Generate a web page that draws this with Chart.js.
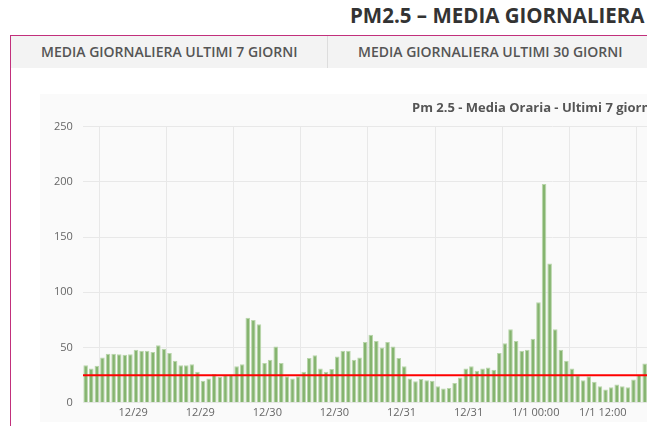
<!DOCTYPE html>
<html>
<head>
<meta charset="utf-8">
<script src="https://cdn.jsdelivr.net/npm/chart.js@4"></script>
<style>
  html, body { margin:0; padding:0; width:647px; height:426px; overflow:hidden; background:#fff; font-family:"Open Sans", sans-serif; }
  #title { position:absolute; left:350px; top:1px; white-space:nowrap; font-size:20.5px; font-weight:bold; color:#333; }
  #box { position:absolute; left:10px; top:35px; width:900px; height:500px; border:1px solid #c2307c; }
  #tabs { position:absolute; left:11px; top:36px; width:900px; height:32px; background:#f3f3f3; }
  .tab { position:absolute; top:0; height:32px; line-height:32px; font-size:14px; font-weight:600; color:#555; white-space:nowrap; }
  #sep { position:absolute; left:316px; top:0; width:1px; height:32px; background:#ddd; }
  #wrap { position:absolute; left:40px; top:94px; width:1040px; height:328px; background:#fafafa; }
</style>
</head>
<body>
<div id="title">PM2.5 – MEDIA GIORNALIERA</div>
<div id="box"></div>
<div id="tabs">
  <div class="tab" style="left:30px">MEDIA GIORNALIERA ULTIMI 7 GIORNI</div>
  <div id="sep"></div>
  <div class="tab" style="left:347px">MEDIA GIORNALIERA ULTIMI 30 GIORNI</div>
</div>
<div id="wrap"><canvas id="c"></canvas></div>
<script>
// hourly values, one per bar (only the visible part)
const hourlyValues = [34,31,33.5,41,44.5,44.5,44,43.5,44,48,47,47,46,52,49,45,38,34,34,35,28,20,22,26,23.5,25.5,25.5,33,35,77,75,71,36,39,51,36,24,22,24,28,40.5,43,31,28,30.5,42,47,
  47,39,41,55,61.5,56,50,55,51,40.5,33,22,19.5,21.5,20.5,20,15,13,13.5,18,23,31,33,29,31,32,30,45,54,66.5,56,47,48,58,91,198,126,66.5,48,38,31,25,20.5,24,19,15,12,14,16.5,15,14,21,25.5,35.5,37];
const limitValue = 25;
const tickLabels = ['12/29','12/29','12/30','12/30','12/31','12/31','1/1 00:00','1/1 12:00','1/2 00:00','1/2 12:00','1/3 00:00','1/3 12:00','1/4 00:00','1/4 12:00'];
const tickPositions = tickLabels.map((_, k) => 8.5 + 12 * k);
const yTicks = [0, 50, 100, 150, 200, 250];

const bars = hourlyValues.map((v, i) => ({x: i, y: v}));
const limit = [{x: -0.5, y: limitValue}, {x: 167.5, y: limitValue}];

new Chart(document.getElementById('c'), {
  data: {
    datasets: [
      { type:'line', data: limit, borderColor:'#ff0000', borderWidth:2, pointRadius:0, order:0 },
      { type:'bar', data: bars, backgroundColor:'#85b46f', borderColor:'#b9d6ab', borderWidth:{left:1,right:1,top:1,bottom:0},
        barPercentage:0.82, categoryPercentage:1, order:1 }
    ]
  },
  options: {
    responsive:true, maintainAspectRatio:false, animation:false,
    layout:{ padding:{ left:4, right:58, top:0, bottom:0 } },
    plugins:{
      legend:{ display:false },
      tooltip:{ enabled:false },
      title:{ display:true, text:'Pm 2.5 - Media Oraria - Ultimi 7 giorni', color:'#555',
        font:{ family:'Open Sans', size:13, weight:'bold' }, padding:{ top:6, bottom:11 } }
    },
    scales:{
      x:{ type:'linear', min:-0.5, max:167.5, offset:false,
        afterBuildTicks: s => { s.ticks = tickPositions.map(v => ({value:v})); },
        ticks:{ autoSkip:false, maxRotation:0, color:'#666', font:{family:'Open Sans', size:11},
          callback:(v, i) => tickLabels[i] },
        grid:{ color:'#e8e8e8', drawTicks:false }, border:{ display:false } },
      y:{ min:0, max:250,
        afterBuildTicks: s => { s.ticks = yTicks.map(v => ({value:v})); },
        ticks:{ color:'#666', font:{family:'Open Sans', size:11}, padding:10 },
        grid:{ color:'#e8e8e8', drawTicks:false }, border:{ display:false } }
    }
  }
});
</script>
</body>
</html>
